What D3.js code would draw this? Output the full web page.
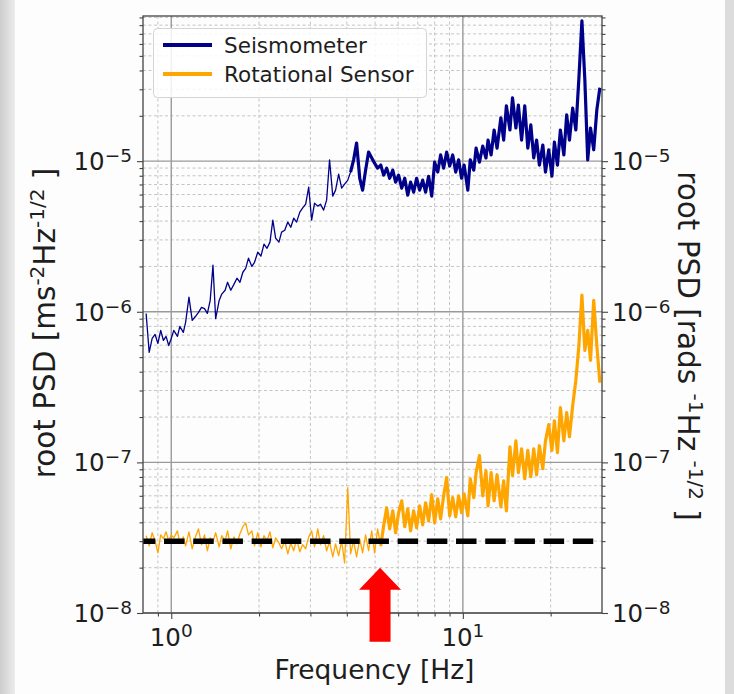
<!DOCTYPE html>
<html lang="en">
<head>
<meta charset="utf-8">
<title>Root PSD</title>
<style>
  body { margin: 0; background: #fff; }
  text { font-family: "DejaVu Sans", sans-serif; fill: #1e1e1e; }
</style>
</head>
<body>
<script src="https://cdn.jsdelivr.net/npm/d3@7"></script>
<script>
// frequency bins [Hz], shared by both sensors
var freq = [
  0.82, 0.84, 0.86, 0.88, 0.90, 0.92, 0.94, 0.96, 0.98, 1.00,
  1.02, 1.05, 1.07, 1.10, 1.12, 1.15, 1.18, 1.21, 1.24, 1.27,
  1.30, 1.33, 1.36, 1.39, 1.42, 1.46, 1.49, 1.53, 1.56, 1.60,
  1.64, 1.68, 1.72, 1.76, 1.80, 1.84, 1.89, 1.93, 1.98, 2.03,
  2.08, 2.13, 2.18, 2.23, 2.28, 2.34, 2.39, 2.45, 2.51, 2.57,
  2.63, 2.69, 2.76, 2.82, 2.89, 2.96, 3.03, 3.10, 3.18, 3.25,
  3.33, 3.41, 3.49, 3.58, 3.66, 3.75, 3.84, 3.93, 4.03, 4.12,
  4.22, 4.32, 4.43, 4.53, 4.64, 4.75, 4.87, 4.98, 5.10, 5.23,
  5.35, 5.48, 5.61, 5.75, 5.88, 6.02, 6.17, 6.32, 6.47, 6.62,
  6.78, 6.94, 7.11, 7.28, 7.45, 7.63, 7.82, 8.00, 8.20, 8.39,
  8.59, 8.80, 9.01, 9.23, 9.45, 9.67, 9.90, 10.1, 10.4, 10.6,
  10.9, 11.1, 11.4, 11.7, 12.0, 12.2, 12.5, 12.8, 13.1, 13.5,
  13.8, 14.1, 14.5, 14.8, 15.2, 15.5, 15.9, 16.3, 16.7, 17.1,
  17.5, 17.9, 18.3, 18.8, 19.2, 19.7, 20.2, 20.6, 21.1, 21.6,
  22.2, 22.7, 23.2, 23.8, 24.4, 25.0, 25.6, 26.2, 26.8, 27.4,
  28.1, 28.8, 29.5
];

// seismometer root PSD [m s^-2 Hz^-1/2]
var seismometer = [
  9.75e-7, 5.37e-7, 6.65e-7, 7.07e-7, 6.16e-7, 7.52e-7, 6.45e-7, 6.86e-7, 5.97e-7, 6.65e-7,
  7.52e-7, 6.86e-7, 8.0e-7, 7.3e-7, 8.5e-7, 1.25e-6, 8.76e-7, 9.3e-7, 9.9e-7, 1.07e-6,
  1.05e-6, 9.75e-7, 1.19e-6, 2.04e-6, 9.0e-7, 1.19e-6, 1.31e-6, 1.39e-6, 1.57e-6, 1.39e-6,
  1.52e-6, 1.67e-6, 1.57e-6, 1.83e-6, 1.94e-6, 2.27e-6, 2.0e-6, 2.13e-6, 2.49e-6, 2.34e-6,
  2.81e-6, 2.64e-6, 2.9e-6, 4.06e-6, 3.08e-6, 2.9e-6, 3.38e-6, 3.48e-6, 3.94e-6, 3.64e-6,
  4.18e-6, 3.94e-6, 4.59e-6, 4.88e-6, 5.18e-6, 6.72e-6, 4.06e-6, 5.26e-6, 5.03e-6, 5.18e-6,
  4.73e-6, 5.51e-6, 1.02e-5, 5.86e-6, 6.42e-6, 8.2e-6, 6.62e-6, 7.04e-6, 7.48e-6, 8.46e-6,
  1.02e-5, 1.32e-5, 7.7e-6, 6.42e-6, 8.72e-6, 1.15e-5, 1.05e-5, 9.7e-6, 8.99e-6, 9.42e-6,
  8.08e-6, 8.99e-6, 7.7e-6, 8.72e-6, 7.26e-6, 8.08e-6, 6.62e-6, 7.7e-6, 5.95e-6, 7.26e-6,
  6.23e-6, 7.7e-6, 6.42e-6, 7.48e-6, 6.23e-6, 7.94e-6, 5.86e-6, 9.84e-6, 8.46e-6, 1.1e-5,
  8.99e-6, 1.15e-5, 9.28e-6, 1.1e-5, 8.46e-6, 1.02e-5, 7.7e-6, 9.42e-6, 6.42e-6, 1.02e-5,
  8.72e-6, 1.22e-5, 9.84e-6, 1.26e-5, 1.05e-5, 1.38e-5, 1.1e-5, 1.61e-5, 1.22e-5, 1.94e-5,
  1.38e-5, 2.33e-5, 1.61e-5, 2.63e-5, 1.66e-5, 2.36e-5, 1.38e-5, 2.33e-5, 1.22e-5, 1.74e-5,
  1.05e-5, 1.38e-5, 9.42e-6, 1.28e-5, 8.46e-6, 1.19e-5, 7.94e-6, 1.34e-5, 9.42e-6, 1.61e-5,
  1.1e-5, 2.03e-5, 1.38e-5, 2.25e-5, 1.61e-5, 3.57e-5, 8.55e-5, 3.46e-5, 1.02e-5, 1.66e-5,
  1.19e-5, 2.19e-5, 3.07e-5
];

// rotational sensor root PSD [rad s^-1 Hz^-1/2]
var rotational = [
  3.26e-8, 2.79e-8, 3.41e-8, 3.01e-8, 2.51e-8, 3.30e-8, 3.11e-8, 3.46e-8, 3.01e-8, 3.30e-8,
  3.15e-8, 3.51e-8, 2.92e-8, 3.20e-8, 2.79e-8, 3.46e-8, 2.67e-8, 3.20e-8, 3.62e-8, 2.84e-8,
  3.30e-8, 2.59e-8, 3.15e-8, 2.97e-8, 3.41e-8, 2.75e-8, 3.26e-8, 3.01e-8, 3.51e-8, 2.67e-8,
  3.20e-8, 2.88e-8, 3.36e-8, 3.74e-8, 3.97e-8, 3.30e-8, 3.51e-8, 2.79e-8, 3.41e-8, 2.75e-8,
  3.26e-8, 3.01e-8, 3.46e-8, 2.71e-8, 3.15e-8, 2.92e-8, 2.67e-8, 3.01e-8, 2.47e-8, 2.92e-8,
  2.59e-8, 3.11e-8, 2.55e-8, 2.84e-8, 2.67e-8, 3.20e-8, 3.51e-8, 2.75e-8, 3.62e-8, 2.84e-8,
  3.26e-8, 2.59e-8, 2.97e-8, 2.36e-8, 2.88e-8, 2.40e-8, 3.01e-8, 2.15e-8, 6.80e-8, 2.47e-8,
  3.01e-8, 2.36e-8, 3.11e-8, 2.51e-8, 3.30e-8, 2.59e-8, 3.51e-8, 2.51e-8, 3.62e-8, 2.79e-8,
  3.79e-8, 5.00e-8, 3.62e-8, 4.77e-8, 3.41e-8, 4.63e-8, 5.56e-8, 3.74e-8, 4.92e-8, 3.51e-8,
  4.77e-8, 3.68e-8, 5.15e-8, 3.85e-8, 5.39e-8, 4.09e-8, 6.10e-8, 3.97e-8, 5.73e-8, 4.22e-8,
  6.0e-8, 7.92e-8, 4.42e-8, 5.83e-8, 4.35e-8, 6.0e-8, 4.63e-8, 6.19e-8, 4.42e-8, 7.79e-8,
  5.83e-8, 8.54e-8, 1.11e-7, 6.0e-8, 8.80e-8, 5.15e-8, 8.54e-8, 5.56e-8, 8.28e-8, 5.07e-8,
  7.55e-8, 4.77e-8, 1.27e-7, 8.16e-8, 1.39e-7, 8.54e-8, 1.23e-7, 7.79e-8, 1.20e-7, 8.03e-8,
  1.23e-7, 8.28e-8, 1.29e-7, 9.08e-8, 1.39e-7, 1.78e-7, 1.20e-7, 1.89e-7, 1.16e-7, 2.31e-7,
  1.39e-7, 2.14e-7, 1.48e-7, 2.38e-7, 3.50e-7, 5.97e-7, 1.29e-6, 5.54e-7, 7.52e-7, 4.76e-7,
  1.19e-6, 5.97e-7, 3.39e-7
];

// above these frequencies the spectra are dense enough to read as a thick band
var denseFrom = [4.1, 5.2];

var xTickValues = [1, 10];
var xTickExp = ["0", "1"];
var yTickValues = [1e-8, 1e-7, 1e-6, 1e-5];
var yTickExp = ["\u22128", "\u22127", "\u22126", "\u22125"];

var legendLabels = ["Seismometer", "Rotational Sensor"];
var seriesColors = ["#00008b", "#ffa500"];

// black dashed reference level and its frequency extent
var noiseFloor = 3e-8;
var noiseFloorRange = [0.75, 28];

// red arrow marking the frequency where the sensor leaves the floor
var arrowFreq = 5.2;
var arrowTip = 2e-8;

var w = 734, h = 694;
var plotLeft = 143, plotRight = 602, plotTop = 16, plotBottom = 613;

var svg = d3.select("body").append("svg")
  .attr("width", w)
  .attr("height", h);

// grey page border like the screenshot
var defs = svg.append("defs");
var grad = defs.append("linearGradient").attr("id", "edge")
  .attr("x1", 0).attr("x2", 1).attr("y1", 0).attr("y2", 0);
grad.append("stop").attr("offset", "0%").attr("stop-color", "#cdcdcd");
grad.append("stop").attr("offset", "100%").attr("stop-color", "#ececec");

svg.append("rect").attr("width", w).attr("height", h).attr("fill", "#dcdcdc");
svg.append("rect").attr("width", 15).attr("height", h).attr("fill", "url(#edge)");
svg.append("rect").attr("x", 15).attr("width", 710).attr("height", h).attr("fill", "#fdfdfd");

defs.append("clipPath").attr("id", "plot")
  .append("rect")
  .attr("x", plotLeft).attr("y", plotTop)
  .attr("width", plotRight - plotLeft).attr("height", plotBottom - plotTop);

var x = d3.scaleLog().domain([0.8, 30]).range([plotLeft, plotRight]);
var y = d3.scaleLog().domain([1e-8, 9.2e-5]).range([plotBottom, plotTop]);

function isDecade(d) {
  var l = Math.log10(d);
  return Math.abs(l - Math.round(l)) < 1e-6;
}

var xMinor = x.ticks().filter(function(d) { return !isDecade(d) && d > 0.81 && d < 29.9; });
var yMinor = y.ticks().filter(function(d) { return !isDecade(d); });

// grid
var grid = svg.append("g");
grid.selectAll(".xminor").data(xMinor).enter().append("line")
  .attr("x1", function(d) { return x(d); }).attr("x2", function(d) { return x(d); })
  .attr("y1", plotTop).attr("y2", plotBottom)
  .attr("stroke", "#c4c4c4").attr("stroke-width", 1).attr("stroke-dasharray", "3,2.5");
grid.selectAll(".yminor").data(yMinor).enter().append("line")
  .attr("x1", plotLeft).attr("x2", plotRight)
  .attr("y1", function(d) { return y(d); }).attr("y2", function(d) { return y(d); })
  .attr("stroke", "#c4c4c4").attr("stroke-width", 1).attr("stroke-dasharray", "3,2.5");
grid.selectAll(".xmajor").data(xTickValues).enter().append("line")
  .attr("x1", function(d) { return x(d); }).attr("x2", function(d) { return x(d); })
  .attr("y1", plotTop).attr("y2", plotBottom)
  .attr("stroke", "#9a9a9a").attr("stroke-width", 1.4);
grid.selectAll(".ymajor").data(yTickValues).enter().append("line")
  .attr("x1", plotLeft).attr("x2", plotRight)
  .attr("y1", function(d) { return y(d); }).attr("y2", function(d) { return y(d); })
  .attr("stroke", "#9a9a9a").attr("stroke-width", 1.4);

// spectra
var plot = svg.append("g").attr("clip-path", "url(#plot)");
var line = d3.line()
  .x(function(d) { return x(d[0]); })
  .y(function(d) { return y(d[1]); });

[seismometer, rotational].forEach(function(values, k) {
  var pts = d3.zip(freq, values);
  plot.append("path")
    .datum(pts)
    .attr("d", line)
    .attr("fill", "none")
    .attr("stroke", seriesColors[k])
    .attr("stroke-width", 1.3)
    .attr("stroke-linejoin", "round");
  plot.append("path")
    .datum(pts.filter(function(d) { return d[0] >= denseFrom[k]; }))
    .attr("d", line)
    .attr("fill", "none")
    .attr("stroke", seriesColors[k])
    .attr("stroke-width", 3.2)
    .attr("stroke-linejoin", "round");
});

plot.append("path")
  .datum(noiseFloorRange.map(function(f) { return [f, noiseFloor]; }))
  .attr("d", line)
  .attr("fill", "none")
  .attr("stroke", "#000")
  .attr("stroke-width", 5.5)
  .attr("stroke-dasharray", "20.5,8.7");

// axes: ticks only, labels drawn below
function ticks(axis, values, size) {
  return axis.tickValues(values).tickSize(size).tickFormat("");
}
var axes = [
  [d3.axisLeft(y), yTickValues, 6, "translate(" + plotLeft + ",0)"],
  [d3.axisLeft(y), yMinor, 3.5, "translate(" + plotLeft + ",0)"],
  [d3.axisRight(y), yTickValues, 6, "translate(" + plotRight + ",0)"],
  [d3.axisRight(y), yMinor, 3.5, "translate(" + plotRight + ",0)"],
  [d3.axisBottom(x), xTickValues, 6, "translate(0," + plotBottom + ")"],
  [d3.axisBottom(x), xMinor, 3.5, "translate(0," + plotBottom + ")"]
];
axes.forEach(function(a) {
  var g = svg.append("g").attr("transform", a[3]).call(ticks(a[0], a[1], a[2]));
  g.select(".domain").remove();
  g.selectAll("line").attr("stroke", "#444").attr("stroke-width", 1.1);
});

svg.append("rect")
  .attr("x", plotLeft).attr("y", plotTop)
  .attr("width", plotRight - plotLeft).attr("height", plotBottom - plotTop)
  .attr("fill", "none").attr("stroke", "#444").attr("stroke-width", 1.3);

// tick labels 10^n
function powLabel(px, py, exp, anchor, dy) {
  var t = svg.append("text")
    .attr("x", px).attr("y", py)
    .attr("text-anchor", anchor)
    .style("font-size", "24.5px");
  t.append("tspan").text("10");
  t.append("tspan").attr("dy", dy).style("font-size", "18.5px").text(exp);
}
yTickValues.forEach(function(v, i) {
  powLabel(132, y(v) + 9, yTickExp[i], "end", -8);
  powLabel(612, y(v) + 9, yTickExp[i], "start", -8);
});
xTickValues.forEach(function(v, i) {
  powLabel(x(v), 646, xTickExp[i], "middle", -9);
});

// axis titles
svg.append("text")
  .attr("x", (plotLeft + plotRight) / 2 + 2).attr("y", 679)
  .attr("text-anchor", "middle")
  .style("font-size", "26.5px")
  .text("Frequency [Hz]");

function unitLabel(transform, parts) {
  var t = svg.append("text")
    .attr("transform", transform)
    .attr("text-anchor", "middle")
    .style("font-size", "29.5px");
  parts.forEach(function(p) {
    if (p.sup) {
      t.append("tspan").attr("dy", -11).style("font-size", "20px").text(p.sup);
    } else {
      t.append("tspan").attr("dy", p.after ? 11 : 0).text(p.text);
    }
  });
}
unitLabel("translate(55,323) rotate(-90)", [
  {text: "root PSD [ms"}, {sup: "-2"}, {text: "Hz", after: true}, {sup: "-1/2"}, {text: " ]", after: true}
]);
unitLabel("translate(678,346) rotate(90)", [
  {text: "root PSD [rads "}, {sup: "-1"}, {text: "Hz ", after: true}, {sup: "-1/2"}, {text: " ]", after: true}
]);

// legend
var legend = svg.append("g");
legend.append("rect")
  .attr("x", 153.5).attr("y", 28.5).attr("width", 273).attr("height", 69)
  .attr("rx", 4)
  .attr("fill", "#fff").attr("fill-opacity", 0.85)
  .attr("stroke", "#d4d4d4").attr("stroke-width", 1);
legendLabels.forEach(function(name, i) {
  var ly = i === 0 ? 45 : 74;
  legend.append("line")
    .attr("x1", 163).attr("x2", 212)
    .attr("y1", ly).attr("y2", ly)
    .attr("stroke", seriesColors[i]).attr("stroke-width", 4);
  legend.append("text")
    .attr("x", 224).attr("y", ly + 8)
    .style("font-size", "21.5px")
    .text(name);
});

// red arrow
var ax = x(arrowFreq), ty = y(arrowTip);
svg.append("path")
  .attr("d", d3.line()([
    [ax, ty], [ax + 21, ty + 22], [ax + 10.5, ty + 22], [ax + 10.5, ty + 74],
    [ax - 10.5, ty + 74], [ax - 10.5, ty + 22], [ax - 21, ty + 22]
  ]) + "Z")
  .attr("fill", "#ff0000");
</script>
</body>
</html>
